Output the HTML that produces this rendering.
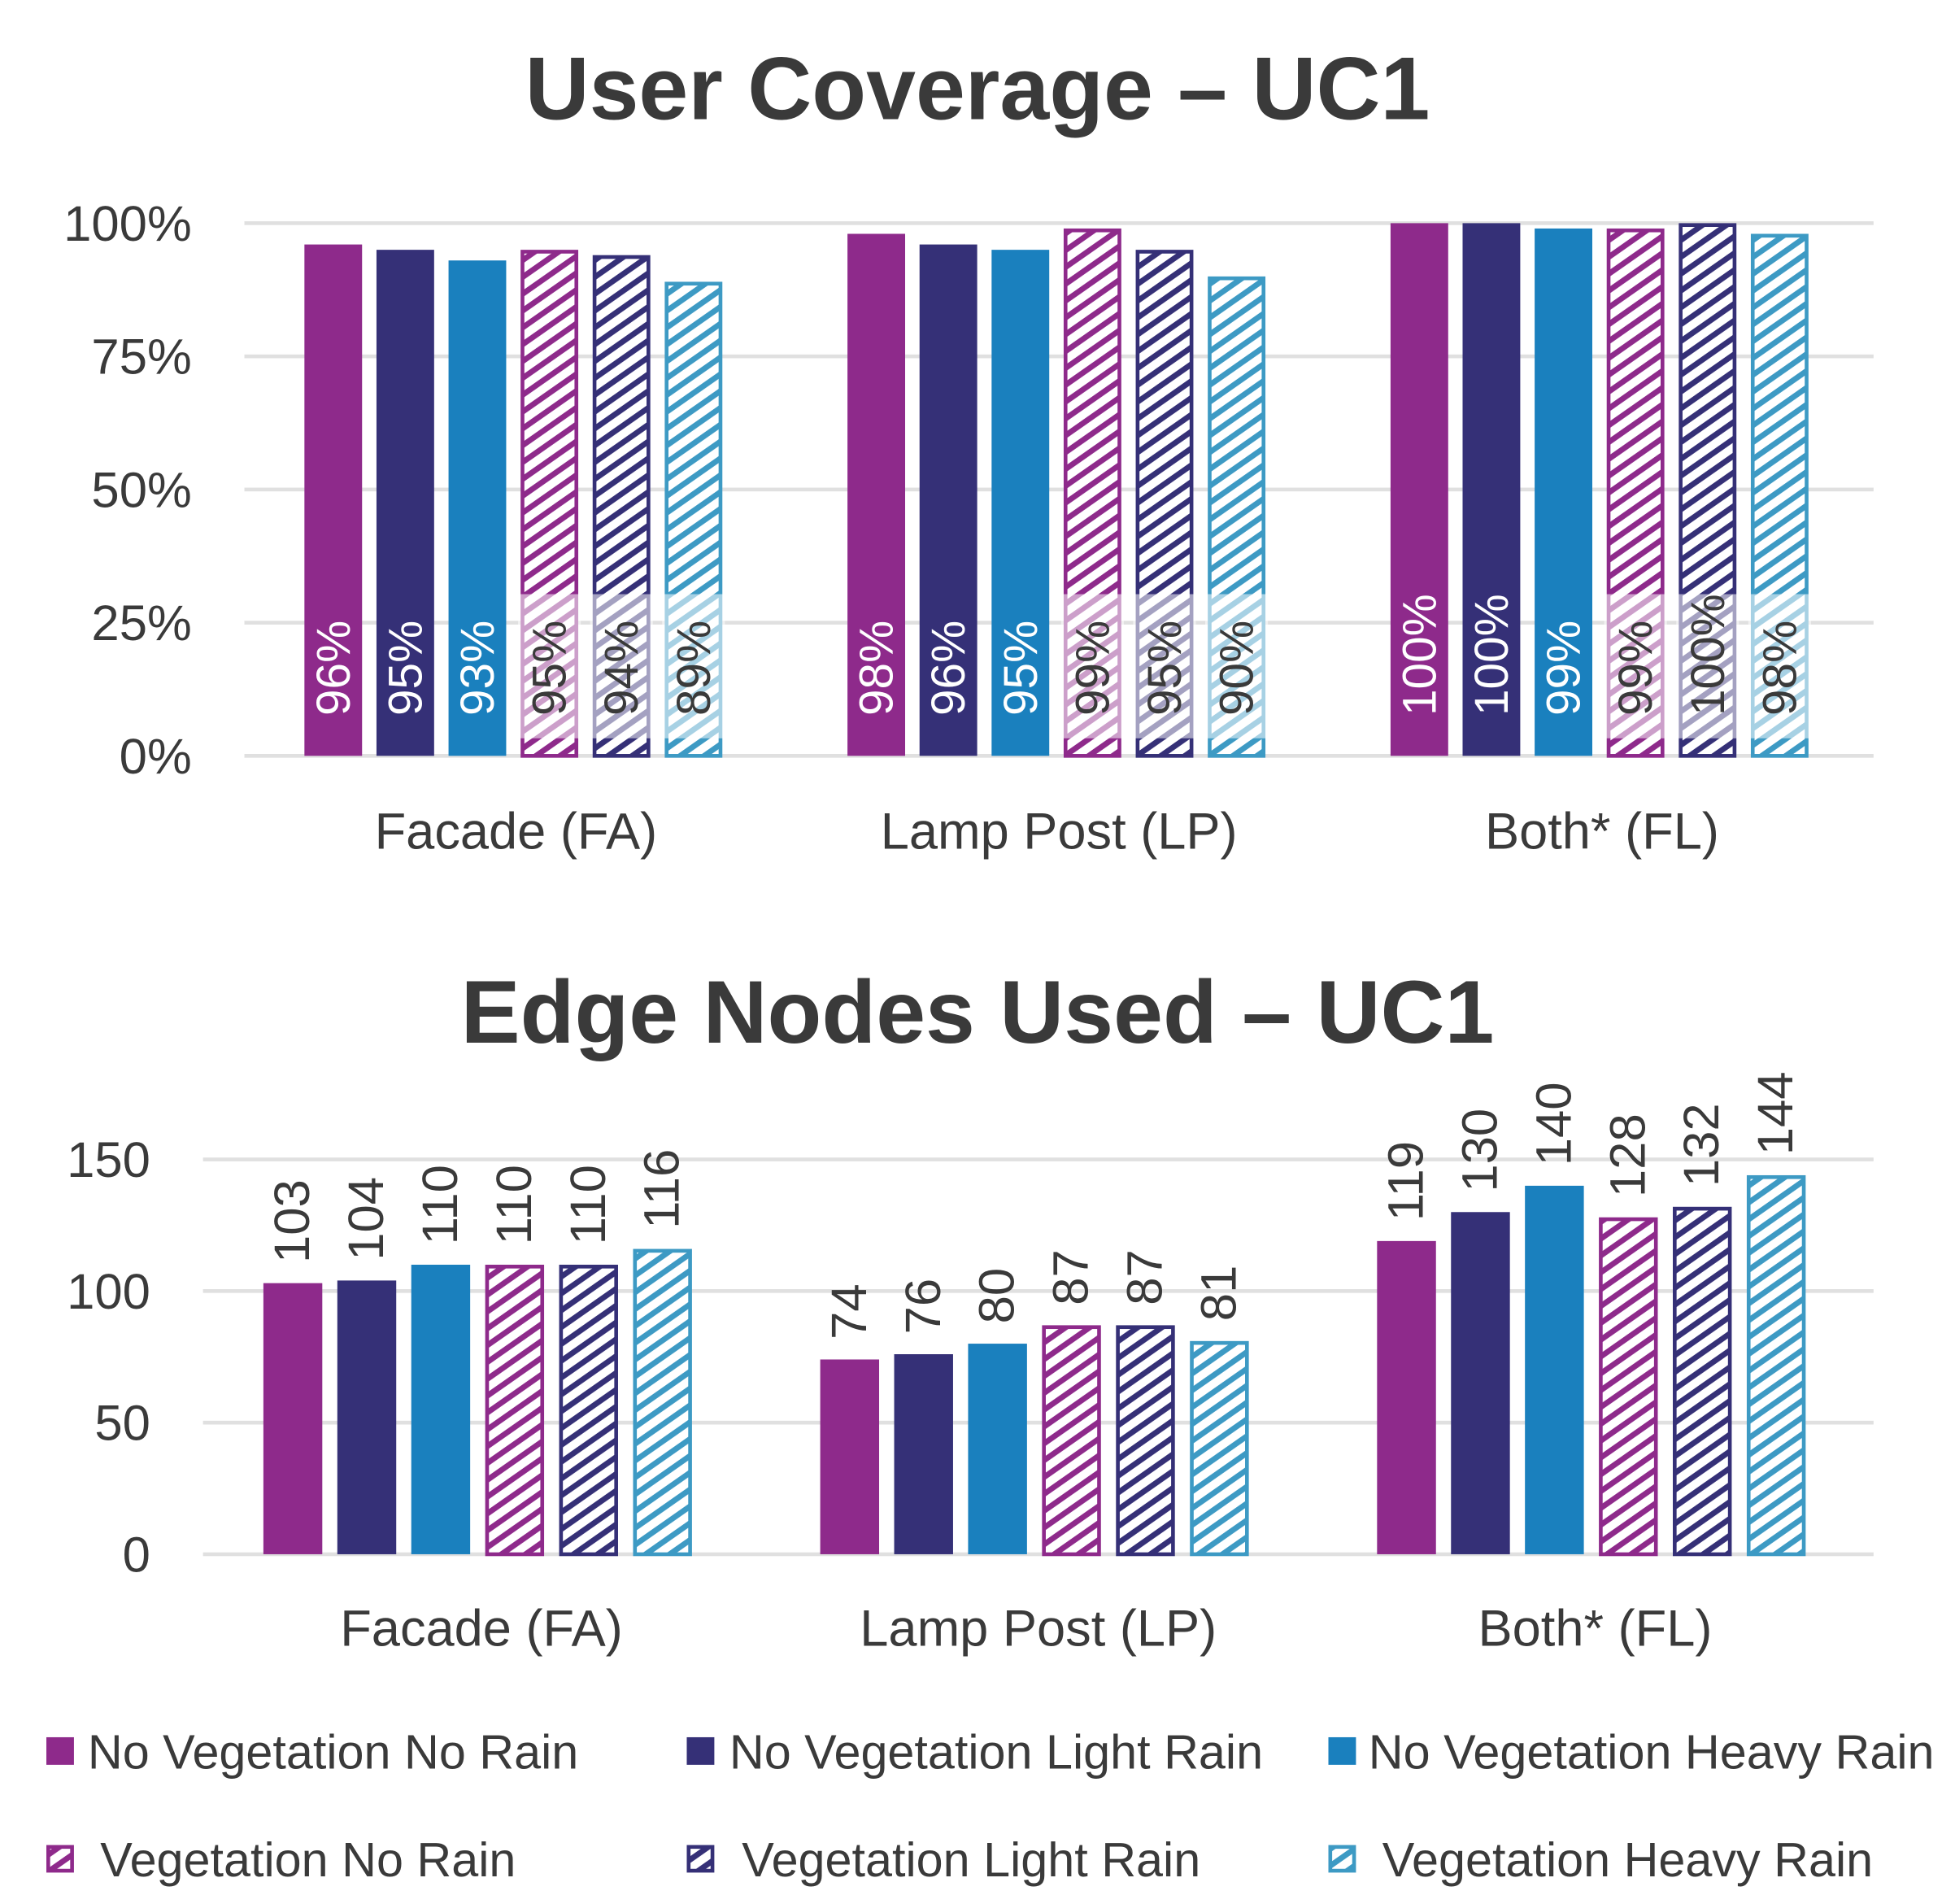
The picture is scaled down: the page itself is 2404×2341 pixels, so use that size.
<!DOCTYPE html>
<html><head><meta charset="utf-8"><style>
html,body{margin:0;padding:0;background:#fff}
svg{display:block}
text{font-family:"Liberation Sans",sans-serif;fill:#3a3a3a}
</style></head><body>
<svg id="s" width="2404" height="2341" viewBox="0 0 1560 1519" xmlns="http://www.w3.org/2000/svg">
<defs>
<pattern id="h0" patternUnits="userSpaceOnUse" width="11" height="11" patternTransform="rotate(-35)"><rect width="11" height="11" fill="#fff"/><rect width="11" height="4.5" fill="#8E2A8B"/></pattern>
<pattern id="h1" patternUnits="userSpaceOnUse" width="11" height="11" patternTransform="rotate(-35)"><rect width="11" height="11" fill="#fff"/><rect width="11" height="4.5" fill="#353077"/></pattern>
<pattern id="h2" patternUnits="userSpaceOnUse" width="11" height="11" patternTransform="rotate(-35)"><rect width="11" height="11" fill="#fff"/><rect width="11" height="4.5" fill="#3D9AC4"/></pattern>
</defs>
<text x="780" y="95" text-anchor="middle" font-size="71" font-weight="bold">User Coverage – UC1</text>
<text x="780" y="832" text-anchor="middle" font-size="71" font-weight="bold">Edge Nodes Used – UC1</text>
<g id="top"></g>
<g id="bot"></g>
<g id="legend"></g>
</svg>
<script>
const categories = ["Facade (FA)", "Lamp Post (LP)", "Both* (FL)"];
const seriesNames = ["No Vegetation No Rain","No Vegetation Light Rain","No Vegetation Heavy Rain","Vegetation No Rain","Vegetation Light Rain","Vegetation Heavy Rain"];
const coverageFA = [96, 95, 93, 95, 94, 89];
const coverageLP = [98, 96, 95, 99, 95, 90];
const coverageFL = [100, 100, 99, 99, 100, 98];
const nodesFA = [103, 104, 110, 110, 110, 116];
const nodesLP = [74, 76, 80, 87, 87, 81];
const nodesFL = [119, 130, 140, 128, 132, 144];
const coverageTicks = [0, 25, 50, 75, 100];
const nodesTicks = [0, 50, 100, 150];

const NS = "http://www.w3.org/2000/svg";
const colors = ["#8E2A8B","#353077","#1A80BE","#8E2A8B","#353077","#3D9AC4"];
function mk(tag, attrs, parent){const e=document.createElementNS(NS,tag);for(const k in attrs)e.setAttribute(k,attrs[k]);parent.appendChild(e);return e;}

function drawChart(g, cfg){
  const {x0,x1,y0,yTop,vmax,ticks,data,fmt,inside,tickX,catY,bw,step,groupOff,prefix} = cfg;
  const yS = v => y0 - (v/vmax)*(y0-yTop);
  const gw = (x1-x0)/categories.length;
  ticks.forEach(t=>{
    const l=mk('rect',{x:x0,y:yS(t)-1.5,width:x1-x0,height:3,fill:'#e0e0e0'},g);
    
    
    const tx=mk('text',{x:tickX,y:yS(t)+14,'text-anchor':'end','font-size':40},g);
    tx.textContent=fmt(t);
    
    
  });
  categories.forEach((c,ci)=>{
    const cx = x0 + gw*ci + gw/2;
    const ct=mk('text',{x:cx,y:catY,'text-anchor':'middle','font-size':41},g);
    ct.textContent=c;
    
    
    const vals=data[ci];
    vals.forEach((v,si)=>{
      const bx = cx - (step*5+bw)/2 + si*step + groupOff;
      const by = yS(v);
      let r;
      if(si<3){ r=mk('rect',{x:bx,y:by,width:bw,height:y0-by,fill:colors[si]},g); }
      else { r=mk('rect',{x:bx+1.5,y:by+1.5,width:bw-3,height:y0-by-1.5,fill:'url(#h'+(si-3)+')',stroke:colors[si],'stroke-width':3},g); }
      
      
      const lx = bx + bw/2 + 13;
      let t;
      if(inside){
        if(si>=3){
          const bg=mk('rect',{x:bx-2,y:474,width:bw+4,height:y0-474-14,fill:'#fff','fill-opacity':0.55},g);
          
          
        }
        t=mk('text',{x:lx,y:y0-32,'font-size':38,transform:`rotate(-90 ${lx} ${y0-32})`},g);
        t.style.fill = si<3 ? '#fff' : '#3a3a3a';
      } else {
        t=mk('text',{x:lx,y:by-16,'font-size':40,transform:`rotate(-90 ${lx} ${by-16})`},g);
      }
      t.textContent = inside ? v+'%' : String(v);
      
      
    });
  });
}
drawChart(document.getElementById('top'),{x0:195,x1:1495,y0:603,yTop:178,vmax:100,ticks:coverageTicks,data:[coverageFA,coverageLP,coverageFL],fmt:t=>t+'%',inside:true,tickX:153,catY:677,bw:46,step:57.5,groupOff:-2,prefix:'coverage'});
drawChart(document.getElementById('bot'),{x0:162,x1:1495,y0:1240,yTop:925,vmax:150,ticks:nodesTicks,data:[nodesFA,nodesLP,nodesFL],fmt:t=>String(t),inside:false,tickX:120,catY:1313,bw:47,step:59,groupOff:-3,prefix:'nodes'});

const lg=document.getElementById('legend');
const legPos=[[37,70,1397],[548,582,1397],[1060,1092,1397],[37,80,1483],[548,592,1483],[1060,1103,1483]];
seriesNames.forEach((n,i)=>{
  const [sx,tx,y]=legPos[i];
  let r;
  if(i<3) r=mk('rect',{x:sx,y:y-11,width:22,height:22,fill:colors[i]},lg);
  else r=mk('rect',{x:sx+1.5,y:y-9.5,width:19,height:19,fill:'url(#h'+(i-3)+')',stroke:colors[i],'stroke-width':3},lg);
  
  
  const t=mk('text',{x:tx,y:y+14,'font-size':38.5},lg);
  t.textContent=n;
  
  
});
</script>
</body></html>
